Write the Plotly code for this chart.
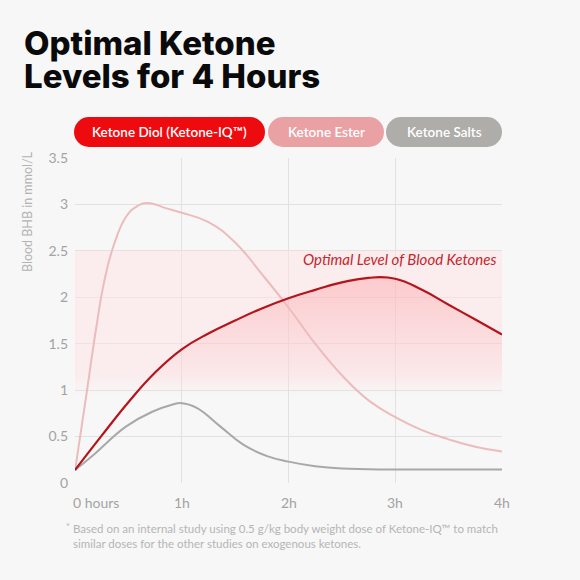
import plotly.graph_objects as go

# figure / plot-area geometry in pixels
W, H = 580, 580
L, R, T, B = 75, 78, 158, 97
PW, PH = W - L - R, H - T - B


def px(x):
    return (x - L) / PW


def py(y):
    return (H - B - y) / PH


# data (hours -> blood BHB mmol/L)
hours_diol = [0, 0.25, 0.5, 0.75, 1, 1.25, 1.5, 1.75, 2, 2.25, 2.5, 2.75, 3, 3.25, 3.5, 3.75, 4]
diol = [0.14, 0.51, 0.87, 1.19, 1.44, 1.61, 1.75, 1.88, 1.99, 2.08, 2.16, 2.21, 2.2, 2.08, 1.92, 1.76, 1.6]

hours_ester = [0, 0.1, 0.2, 0.27, 0.36, 0.48, 0.58, 0.68, 0.85, 1, 1.25, 1.5, 1.75, 2,
               2.25, 2.5, 2.75, 3, 3.25, 3.5, 3.75, 4]
ester = [0.13, 0.9, 1.68, 2.15, 2.55, 2.87, 2.98, 3.015, 2.96, 2.91, 2.81, 2.59, 2.25, 1.89,
         1.5, 1.16, 0.89, 0.71, 0.57, 0.47, 0.39, 0.34]

hours_salts = [0, 0.17, 0.48, 0.73, 0.9, 1, 1.14, 1.36, 1.58, 1.8, 2, 2.25, 2.5, 3, 3.5, 4]
salts = [0.14, 0.3, 0.61, 0.77, 0.84, 0.86, 0.81, 0.61, 0.41, 0.29, 0.23, 0.18, 0.155, 0.145, 0.145, 0.145]

optimal_top = 2.5
x_ticks = [0, 1, 2, 3, 4]
x_labels = ['0 hours', '1h', '2h', '3h', '4h']
y_ticks = [0, 0.5, 1, 1.5, 2, 2.5, 3, 3.5]
y_labels = ['0', '0.5', '1', '1.5', '2', '2.5', '3', '3.5']

legend_names = ['Ketone Diol (Ketone-IQ™)', 'Ketone Ester', 'Ketone Salts']
legend_colors = ['#ee0b0f', '#e9a1a4', '#afada9']
legend_px = [(74, 265), (268, 384), (386, 502)]

BG = '#f7f7f7'
TXT = 'Lato'
SMOOTH = 1.3

fig = go.Figure()

# optimal band (fades out just under 1 mmol/L)
fig.add_trace(go.Scatter(
    x=[0, 4], y=[optimal_top, optimal_top], mode='lines', line=dict(width=0),
    fill='tozeroy', hoverinfo='skip', showlegend=False,
    fillgradient=dict(type='vertical', start=0, stop=optimal_top,
                      colorscale=[[0, 'rgba(255,226,229,0)'], [0.37, 'rgba(255,226,229,0)'],
                                  [0.47, 'rgba(255,226,229,0.5)'], [1, 'rgba(255,226,229,0.5)']])))

# gradient under the diol curve
fig.add_trace(go.Scatter(
    x=hours_diol, y=diol, mode='lines', line=dict(width=0, shape='spline', smoothing=SMOOTH),
    fill='tozeroy', hoverinfo='skip', showlegend=False,
    fillgradient=dict(type='vertical', start=0, stop=2.25,
                      colorscale=[[0, 'rgba(255,120,125,0)'], [0.45, 'rgba(255,120,125,0)'],
                                  [1, 'rgba(255,120,125,0.3)']])))

fig.add_trace(go.Scatter(x=hours_ester, y=ester, mode='lines', name='Ketone Ester',
                         line=dict(color='#ecbcbd', width=2, shape='spline', smoothing=SMOOTH)))
fig.add_trace(go.Scatter(x=hours_salts, y=salts, mode='lines', name='Ketone Salts',
                         line=dict(color='#a8a8a8', width=2, shape='spline', smoothing=SMOOTH)))
fig.add_trace(go.Scatter(x=hours_diol, y=diol, mode='lines', name='Ketone Diol',
                         line=dict(color='#b5141c', width=2.2, shape='spline', smoothing=SMOOTH)))

shapes = []
annotations = []

# legend pills
for name, col, (a, b) in zip(legend_names, legend_colors, legend_px):
    y0, y1 = 117, 147
    r = (y1 - y0) / 2
    shapes.append(dict(type='rect', xref='paper', yref='paper', x0=px(a + r), x1=px(b - r),
                       y0=py(y1), y1=py(y0), fillcolor=col, line=dict(width=0), layer='above'))
    for cx in (a + r, b - r):
        shapes.append(dict(type='circle', xref='paper', yref='paper', x0=px(cx - r), x1=px(cx + r),
                           y0=py(y1), y1=py(y0), fillcolor=col, line=dict(width=0), layer='above'))
    annotations.append(dict(text=name, xref='paper', yref='paper', x=px((a + b) / 2), y=py(132),
                            xanchor='center', yanchor='middle', showarrow=False,
                            font=dict(family=TXT, size=13.5, color='white', weight=600)))

# title
for line, yc in (('Optimal Ketone', 43), ('Levels for 4 Hours', 76)):
    annotations.append(dict(text=line, xref='paper', yref='paper', x=px(22), y=py(yc),
                            xanchor='left', yanchor='middle', showarrow=False,
                            font=dict(family='Inter', size=33, color='#0a0a0a', weight=800)))

# y axis title
annotations.append(dict(text='Blood BHB in mmol/L', xref='paper', yref='paper', x=px(27), y=py(212),
                        xanchor='center', yanchor='middle', textangle=-90, showarrow=False,
                        font=dict(family=TXT, size=12.5, color='#b3b3b3')))

# x tick labels
for xv, lab in zip(x_ticks, x_labels):
    annotations.append(dict(text=lab, x=xv, xref='x', yref='paper', y=py(502),
                            xanchor='left' if xv == 0 else 'center', xshift=-4 if xv == 0 else 0,
                            yanchor='middle', showarrow=False,
                            font=dict(family=TXT, size=14, color='#a3a3a3')))

annotations.append(dict(text='Optimal Level of Blood Ketones', x=3.97, y=2.41, xref='x', yref='y',
                        xanchor='right', yanchor='middle', showarrow=False,
                        font=dict(family=TXT, size=15, color='#c4262d', style='italic')))

# footnote
annotations.append(dict(text='*', xref='paper', yref='paper', x=px(64), y=py(526),
                        xanchor='left', yanchor='middle', showarrow=False,
                        font=dict(family=TXT, size=9, color='#b5b5b5')))
annotations.append(dict(text='Based on an internal study using 0.5 g/kg body weight dose of Ketone-IQ™ to match'
                             '<br>similar doses for the other studies on exogenous ketones.',
                        xref='paper', yref='paper', x=px(71), y=py(536), align='left',
                        xanchor='left', yanchor='middle', showarrow=False,
                        font=dict(family=TXT, size=11.5, color='#b5b5b5')))

fig.update_layout(
    width=W, height=H, autosize=False,
    margin=dict(l=L, r=R, t=T, b=B),
    paper_bgcolor=BG, plot_bgcolor=BG,
    showlegend=False,
    shapes=shapes, annotations=annotations,
    xaxis=dict(range=[0, 4], tickvals=x_ticks, showticklabels=False, showgrid=True,
               gridcolor='#e1e1e1', gridwidth=1, zeroline=False, showline=False, fixedrange=True),
    yaxis=dict(range=[0, 3.5], tickvals=y_ticks, ticktext=y_labels, showgrid=True,
               gridcolor='#e1e1e1', gridwidth=1, zeroline=False, showline=False,
               ticklabelstandoff=6, tickfont=dict(family=TXT, size=14, color='#a3a3a3'),
               fixedrange=True),
)

# drop the page's default body margin so the 580x580 figure fills the window
fig.write_html('out.html', config={'displayModeBar': False},
               post_script="document.body.style.margin='0';")
